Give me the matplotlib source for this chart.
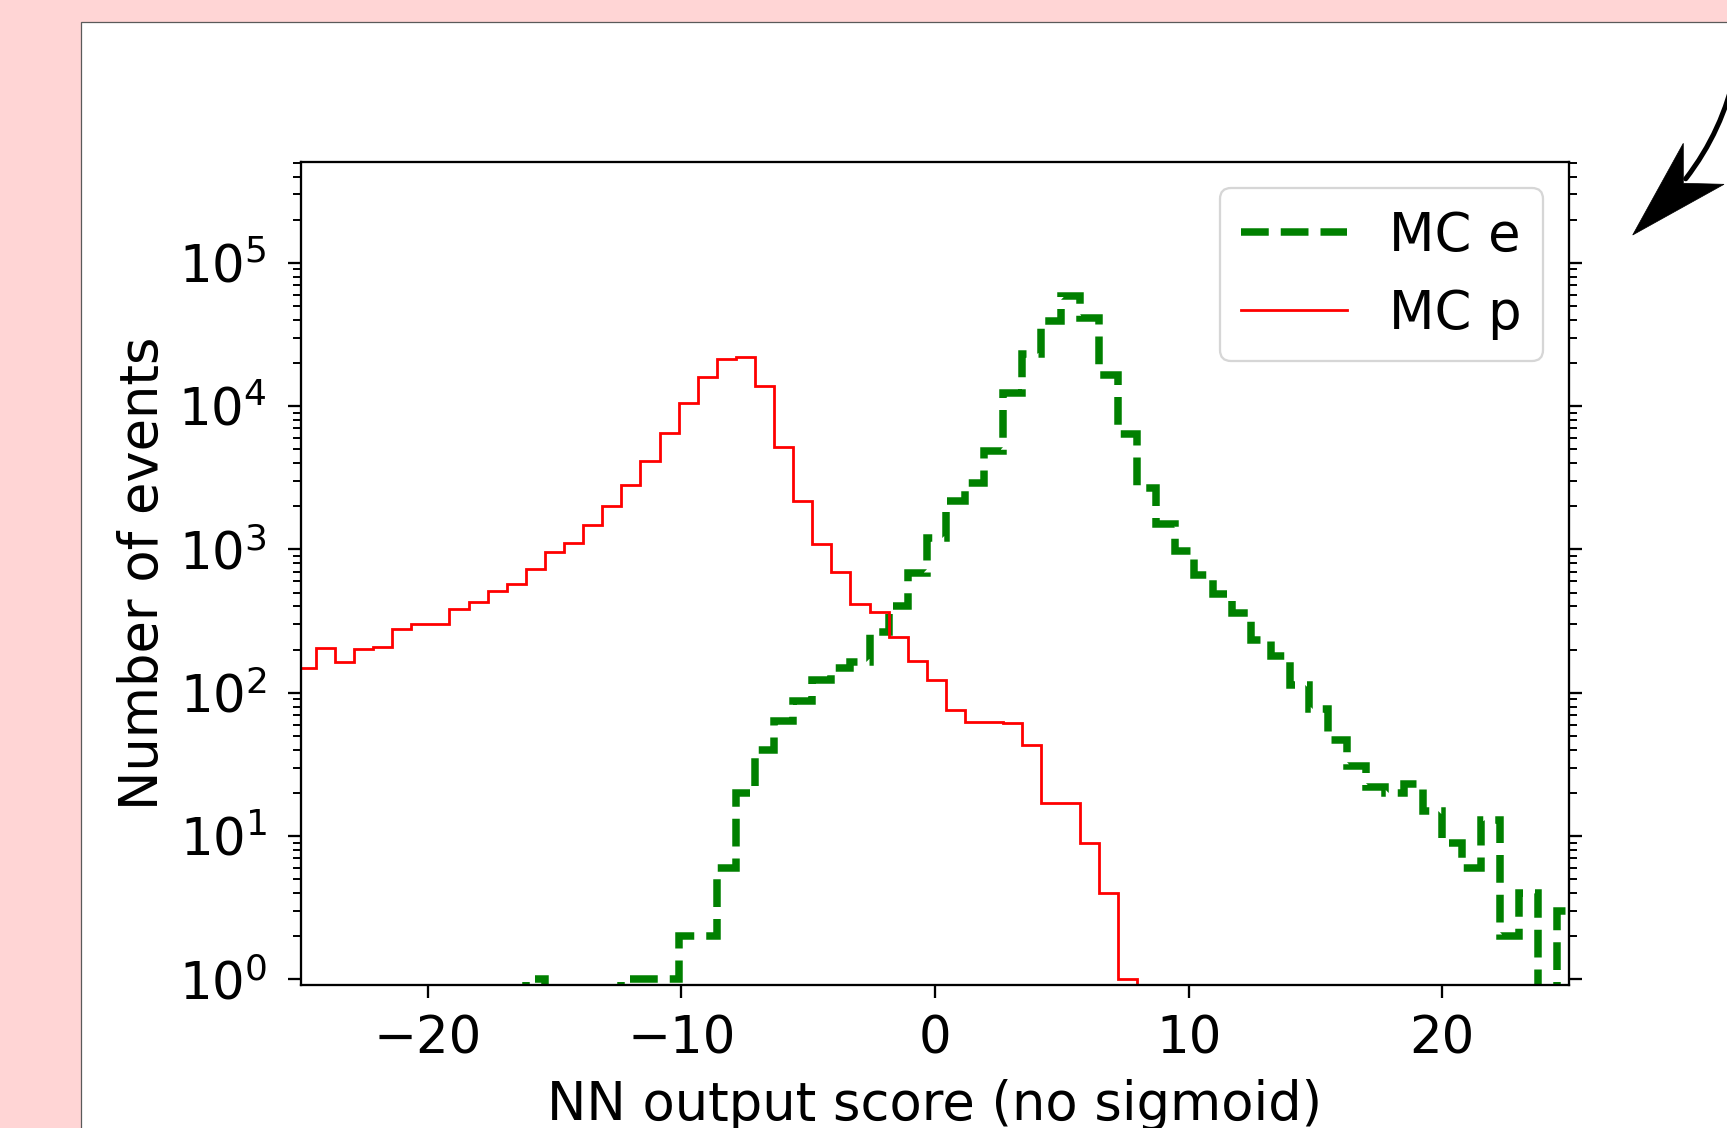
import matplotlib
matplotlib.use("Agg")
import matplotlib.pyplot as plt
import numpy as np
from matplotlib.lines import Line2D
from matplotlib.patches import FancyArrowPatch, Polygon, Rectangle
from matplotlib.transforms import IdentityTransform

BIN_START = -25.17
BIN_STOP = 25.28
N_BINS = 67

MC_E_COUNTS = [
    0, 0, 0, 0, 0, 0, 0, 0, 0, 0, 0, 0,
    1, 0, 0, 0, 0, 1, 1, 1, 2, 2,
    6, 20, 40, 64, 88, 122, 149, 163, 264, 405,
    690, 1210, 2190, 2910, 4850, 12400, 23000, 39500, 59000, 41000,
    16500, 6400, 2680, 1500, 980, 667, 490, 359, 234, 182,
    114, 77, 47, 31, 22, 20, 23, 15, 9, 6,
    13, 2, 4, 0, 3,
]
MC_P_COUNTS = [
    148, 206, 163, 202, 207, 279, 300, 300, 385, 433,
    511, 575, 731, 955, 1104, 1483, 1999, 2831, 4118, 6457,
    10440, 16030, 21300, 21900, 13800, 5150, 2188, 1092, 692, 417,
    364, 244, 167, 123, 76, 63, 63, 62, 43, 17,
    17, 9, 4, 1,
    0, 0, 0, 0, 0, 0, 0, 0, 0, 0, 0, 0,
    0, 0, 0, 0, 0, 0, 0, 0, 0, 0, 0,
]
SERIES_LABELS = ["MC e", "MC p"]
X_TICKS = [-20, -10, 0, 10, 20]
X_LIMITS = (-25, 25)
Y_LIMITS = (0.91, 5.05e5)

W, H = 1727, 1128
PINK = "#ffd5d5"
E_STYLE = dict(color="green", ls="--", lw=5.4)
P_STYLE = dict(color="red", ls="-", lw=2.0)


def main():
    plt.rcParams["font.family"] = ["DejaVu Sans"]
    fig = plt.figure(figsize=(W / 100, H / 100), dpi=100, facecolor=PINK)
    px = IdentityTransform()

    # white panel with a thin grey border, running off the right/bottom
    fig.add_artist(Rectangle((80.5, -20), 1800, H - 22 + 20, transform=px,
                             facecolor="white", edgecolor="#5a5a5a",
                             lw=0.9, zorder=-1))

    ax = fig.add_axes([301 / W, (H - 985.3) / H, (1569 - 301) / W,
                       (985.3 - 162) / H])
    edges = np.linspace(BIN_START, BIN_STOP, N_BINS + 1)
    centers = 0.5 * (edges[:-1] + edges[1:])
    ax.hist(centers, bins=edges, weights=MC_E_COUNTS, histtype="step",
            log=True, **E_STYLE)
    ax.hist(centers, bins=edges, weights=MC_P_COUNTS, histtype="step",
            log=True, **P_STYLE)
    ax.set_xlim(*X_LIMITS)
    ax.set_ylim(*Y_LIMITS)
    ax.set_xticks(X_TICKS)

    for side in ax.spines.values():
        side.set_linewidth(1.65)
    ax.tick_params(axis="both", which="major", labelsize=37, length=9.7,
                   width=1.65)
    ax.tick_params(axis="x", which="major", pad=11.5)
    ax.tick_params(axis="y", which="major", pad=14.7)
    ax.tick_params(axis="y", which="minor", length=5.5, width=1.4)
    ax.tick_params(axis="y", which="both", right=True)
    ax.set_xlabel("NN output score (no sigmoid)", fontsize=38, labelpad=10)
    ax.set_ylabel("Number of events", fontsize=38, labelpad=7)

    handles = [Line2D([], [], **E_STYLE), Line2D([], [], **P_STYLE)]
    leg = ax.legend(handles, SERIES_LABELS, loc="upper right", fontsize=38)
    leg.get_frame().set_linewidth(1.65)

    # hand-drawn style pointer in the top right corner
    fig.add_artist(FancyArrowPatch((1736, H - 68), (1684, H - 181),
                                   transform=px, arrowstyle="-",
                                   connectionstyle="arc3,rad=-0.12",
                                   lw=3.6, color="black", zorder=5))
    fig.add_artist(Polygon([(1632.7, H - 235), (1683.3, H - 143.3),
                            (1683.3, H - 183.3), (1724, H - 184.3)],
                           closed=True, transform=px, facecolor="black",
                           edgecolor="black", lw=0.5, zorder=5))

    fig.savefig("out.png", dpi=100, facecolor=PINK)


if __name__ == "__main__":
    main()
